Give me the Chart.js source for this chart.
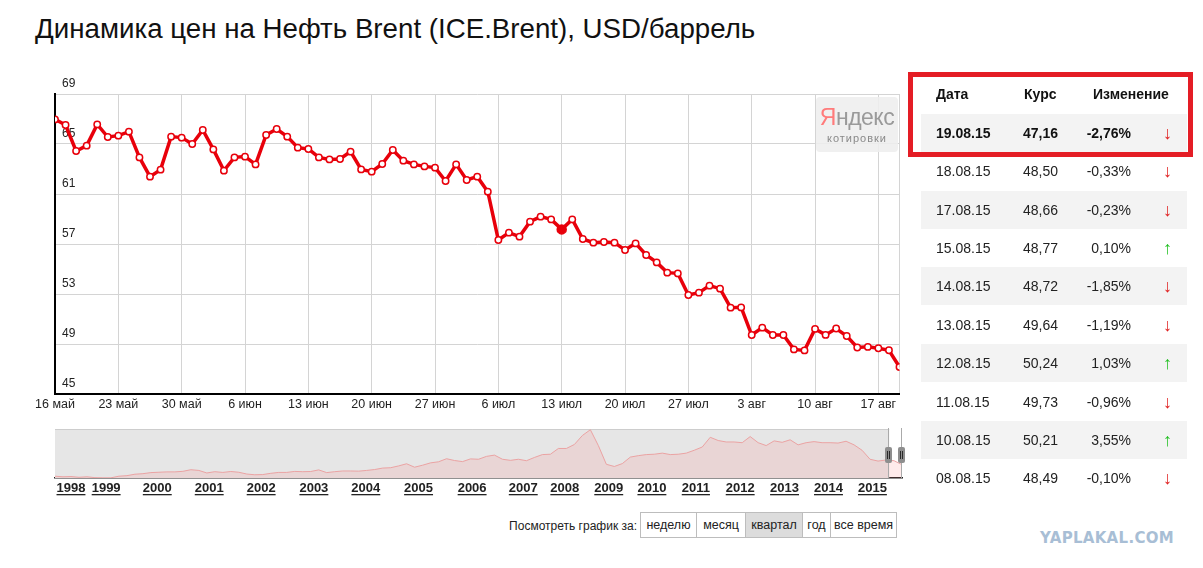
<!DOCTYPE html>
<html lang="ru">
<head>
<meta charset="utf-8">
<title>Нефть Brent</title>
<script src="https://cdn.jsdelivr.net/npm/chart.js@4.4.1/dist/chart.umd.min.js"></script>
<style>
  body { margin: 0; background: #fff; font-family: "Liberation Sans", Arial, sans-serif; color: #222; }
  #page { position: relative; width: 1203px; height: 568px; overflow: hidden; }
  h1 { position: absolute; left: 35px; top: 15px; margin: 0; font-weight: normal; font-size: 27.7px; line-height: 28px; color: #111; white-space: nowrap; }
  #main { position: absolute; left: 0; top: 60px; }
  #nav { position: absolute; left: 0; top: 420px; }
  .ya { position: absolute; left: 816px; top: 97px; width: 82px; height: 55px; background: rgba(238,238,238,0.88); border-radius: 4px; text-align: center; }
  .ya .logo { font-family: "Liberation Sans Narrow", "Arial Narrow", sans-serif; font-size: 23px; line-height: 24px; color: #9a9a9a; margin-top: 8px; letter-spacing: -0.5px; }
  .ya .logo span { color: #ff7b7b; }
  .ya .sub { font-size: 11px; color: #8a8a8a; letter-spacing: 1px; margin-top: 3px; }
  .row-bg { position: absolute; left: 921px; width: 266px; height: 38px; background: #f3f3f3; }
  .frame { position: absolute; left: 908px; top: 72px; width: 285px; height: 85px; border: 5px solid #e41d25; box-sizing: border-box; }
  .c { position: absolute; height: 20px; line-height: 20px; font-size: 14px; white-space: nowrap; }
  .b { font-weight: bold; color: #111; }
  .arrow { font-size: 18px; }
  .down { color: #e02020; }
  .up { color: #1fbf1f; }
  .period { position: absolute; left: 440px; top: 514px; width: 197px; text-align: right; font-size: 12px; line-height: 24px; color: #222; }
  .btns { position: absolute; left: 640px; top: 512px; height: 26px; display: flex; border: 1px solid #bdbdbd; box-sizing: border-box; }
  .btns span { display: block; height: 24px; line-height: 24px; font-size: 12.5px; text-align: center; border-left: 1px solid #bdbdbd; box-sizing: border-box; color: #222; }
  .btns span:first-child { border-left: none; }
  .btns span.on { background: #dcdcdc; }
  .wm { position: absolute; left: 1040px; top: 529px; font-family: "DejaVu Sans", sans-serif; font-weight: bold; font-size: 15px; color: #a8bed5; letter-spacing: 0.3px; }
</style>
</head>
<body>
<div id="page">
  <h1>Динамика цен на Нефть Brent (ICE.Brent), USD/баррель</h1>
  <canvas id="main" width="905" height="360"></canvas>
  <div class="ya"><div class="logo"><span>Я</span>ндекс</div><div class="sub">котировки</div></div>
  <canvas id="nav" width="910" height="80"></canvas>
  <div id="rates"></div>
  <div class="period">Посмотреть график за:</div>
  <div class="btns" id="btns"></div>
  <div class="wm">YAPLAKAL.COM</div>
</div>
<script>
// main chart: daily close, one point per trading day from 16 May to 19 Aug
const prices = [
  66.97, 66.52, 64.44, 64.87, 66.57, 65.56, 65.67, 65.99, 63.93, 62.39,
  62.95, 65.59, 65.51, 65.00, 66.12, 64.57, 62.87, 63.93, 63.99, 63.37,
  65.72, 66.20, 65.59, 64.71, 64.60, 63.93, 63.77, 63.80, 64.39, 62.97,
  62.79, 63.40, 64.52, 63.67, 63.37, 63.21, 63.11, 62.04, 63.37, 62.12,
  62.39, 61.19, 57.32, 57.91, 57.59, 58.79, 59.19, 58.97, 58.17, 58.97,
  57.40, 57.11, 57.16, 57.11, 56.52, 57.05, 56.12, 55.53, 54.71, 54.65,
  52.92, 53.11, 53.67, 53.43, 51.91, 51.93, 49.72, 50.31, 49.72, 49.72,
  48.57, 48.49, 50.21, 49.73, 50.24, 49.64, 48.72, 48.77, 48.66, 48.50,
  47.16
];
const weekLabels = ['16 май', '23 май', '30 май', '6 июн', '13 июн', '20 июн', '27 июн',
  '6 июл', '13 июл', '20 июл', '27 июл', '3 авг', '10 авг', '17 авг'];
const markedIndex = 48; // hovered point (13 июл)

// overview strip, 1998 - 2015
const navPrices = [
  15, 13.3, 14, 12, 13.3, 11, 10.5, 10.5, 15, 16.5,
  20.5, 22, 25, 26, 27, 27, 28.5, 33, 31, 24,
  27.5, 25.5, 28, 26, 21, 19, 19.5, 23, 25.5, 25.5,
  28.3, 27.5, 28, 32.5, 25, 27.5, 29.5, 29.5, 29, 31,
  33.5, 37.5, 38.5, 43.5, 49.5, 40, 45.5, 52, 55, 63.5,
  58.5, 55.5, 63, 62, 70, 73.5, 62, 59, 62, 58,
  67, 75, 76, 92, 92, 103, 128, 144, 100, 48,
  42, 50, 68, 72, 75, 76, 79, 75, 76, 79,
  87, 96, 123, 114, 110, 110, 108, 125, 108, 100,
  113, 109, 116, 102, 108, 111, 108, 108, 107, 112,
  102, 87, 62, 57, 60, 58, 47
];
const navYears = ['1998', '1999', '2000', '2001', '2002', '2003', '2004', '2005', '2006',
  '2007', '2008', '2009', '2010', '2011', '2012', '2013', '2014', '2015'];
const navYearPos = [2.0, 6.4, 12.8, 19.3, 25.8, 32.4, 38.9, 45.5, 52.2,
  58.6, 63.8, 69.3, 74.7, 80.2, 85.75, 91.3, 96.8, 102.3];
const navSelStart = 104.4;

// rates table
const tableDates = ['19.08.15', '18.08.15', '17.08.15', '15.08.15', '14.08.15',
  '13.08.15', '12.08.15', '11.08.15', '10.08.15', '08.08.15'];
const tableRates = ['47,16', '48,50', '48,66', '48,77', '48,72', '49,64', '50,24', '49,73', '50,21', '48,49'];
const tableChanges = ['-2,76%', '-0,33%', '-0,23%', '0,10%', '-1,85%', '-1,19%', '1,03%', '-0,96%', '3,55%', '-0,10%'];

const periods = ['неделю', 'месяц', 'квартал', 'год', 'все время'];
const periodWidths = [55, 49, 57, 28, 66];
const activePeriod = 2;

Chart.defaults.font.family = '"Liberation Sans", Arial, sans-serif';
Chart.defaults.color = '#222';

const red = '#e8000b';

new Chart(document.getElementById('main'), {
    type: 'line',
    data: {
        datasets: [{
            data: prices.map((v, i) => ({x: i, y: v})),
            borderColor: red,
            borderWidth: 3.5,
            pointRadius: prices.map((v, i) => i === markedIndex ? 4.5 : 3.2),
            pointBackgroundColor: prices.map((v, i) => i === markedIndex ? red : '#fff'),
            pointBorderColor: red,
            pointBorderWidth: 1.5,
            tension: 0
        }]
    },
    options: {
        responsive: false,
        animation: false,
        layout: {padding: {left: 55, top: 34, right: 5, bottom: 0}},
        plugins: {legend: {display: false}, tooltip: {enabled: false}},
        scales: {
            x: {
                type: 'linear',
                min: 0,
                max: prices.length - 1,
                afterBuildTicks: s => {
                    s.ticks = weekLabels.map((l, k) => ({value: k * 6})).concat([{value: prices.length - 1}]);
                },
                afterFit: s => { s.height = 26; },
                ticks: {
                    autoSkip: false, maxRotation: 0, padding: 3,
                    font: {size: 12.5},
                    callback: v => weekLabels[v / 6] || ''
                },
                grid: {color: '#d4d4d4', drawTicks: false},
                border: {color: '#000', width: 2}
            },
            y: {
                min: 45,
                max: 69,
                afterFit: s => { s.width = 0; },
                ticks: {stepSize: 4, mirror: true, padding: 7, labelOffset: -10, font: {size: 12}},
                grid: {color: '#d4d4d4', drawTicks: false},
                border: {color: '#000', width: 2}
            }
        }
    }
});

// grey background left of the selected window, and its top line
const navBackground = {
    id: 'navBackground',
    beforeDatasetsDraw(chart) {
        const {ctx, chartArea: a, scales: {x}} = chart;
        const sx = x.getPixelForValue(navSelStart);
        ctx.save();
        ctx.fillStyle = '#e6e6e6';
        ctx.fillRect(a.left, a.top, sx - a.left, a.bottom - a.top);
        ctx.strokeStyle = '#cdcdcd';
        ctx.beginPath();
        ctx.moveTo(a.left, a.top + 0.5);
        ctx.lineTo(sx, a.top + 0.5);
        ctx.stroke();
        ctx.restore();
    }
};

// the two drag handles of the window
const navHandles = {
    id: 'navHandles',
    afterDraw(chart) {
        const {ctx, chartArea: a, scales: {x}} = chart;
        const mid = a.top + 26;
        [navSelStart, navPrices.length - 1].forEach(v => {
            const px = Math.round(x.getPixelForValue(v)) - 1;
            ctx.save();
            ctx.strokeStyle = '#aaa';
            ctx.lineWidth = 1;
            ctx.beginPath();
            ctx.moveTo(px + 0.5, a.top - 1);
            ctx.lineTo(px + 0.5, a.bottom);
            ctx.stroke();
            ctx.fillStyle = '#8e8e8e';
            ctx.beginPath();
            ctx.roundRect(px - 3, mid - 8, 7, 16, 2);
            ctx.fill();
            ctx.fillStyle = '#2a2a2a';
            ctx.fillRect(px - 1, mid - 4, 1, 8);
            ctx.fillRect(px + 1, mid - 4, 1, 8);
            ctx.restore();
        });
    }
};

// year labels look like links
const yearUnderline = {
    id: 'yearUnderline',
    afterDraw(chart) {
        const {ctx, scales: {x}} = chart;
        ctx.save();
        ctx.font = 'bold 13px "Liberation Sans", Arial, sans-serif';
        ctx.fillStyle = '#222';
        x.ticks.forEach((t, k) => {
            const px = x.getPixelForValue(t.value);
            const w = ctx.measureText(navYears[k]).width;
            ctx.fillRect(px - w / 2, x.top + 16, w, 1.3);
        });
        ctx.restore();
    }
};

new Chart(document.getElementById('nav'), {
    type: 'line',
    data: {
        datasets: [{
            data: navPrices.map((v, i) => ({x: i, y: v})),
            borderColor: '#eba3a3',
            borderWidth: 1,
            pointRadius: 0,
            fill: 'start',
            backgroundColor: 'rgba(255,110,110,0.14)',
            tension: 0
        }]
    },
    options: {
        responsive: false,
        animation: false,
        layout: {padding: {left: 55, top: 9, right: 8, bottom: 0}},
        plugins: {legend: {display: false}, tooltip: {enabled: false}},
        scales: {
            x: {
                type: 'linear',
                min: 0,
                max: navPrices.length - 1,
                afterBuildTicks: s => { s.ticks = navYearPos.map(v => ({value: v})); },
                afterFit: s => { s.height = 22; },
                ticks: {
                    autoSkip: false, maxRotation: 0, padding: 3,
                    font: {size: 13, weight: 'bold'},
                    callback: (v, k) => navYears[k]
                },
                grid: {display: false, drawTicks: false},
                border: {color: '#222', width: 1.5}
            },
            y: {display: false, min: 10, max: 146}
        }
    },
    plugins: [navBackground, navHandles, yearUnderline]
});

// table of last quotes
const rowY0 = 132.7, rowStep = 38.4;
let html = '';
tableDates.forEach((d, i) => {
    const cy = rowY0 + i * rowStep;
    if (i % 2 === 0) html += `<div class="row-bg" style="top:${(cy - 19).toFixed(1)}px"></div>`;
});
html += '<div class="frame"></div>';
const head = 94.3 - 10;
html += `<div class="c b" style="left:936px;top:${head}px">Дата</div>`;
html += `<div class="c b" style="left:1024px;top:${head}px">Курс</div>`;
html += `<div class="c b" style="left:1093px;top:${head}px">Изменение</div>`;
tableDates.forEach((d, i) => {
    const top = (rowY0 + i * rowStep - 10).toFixed(1);
    const cls = i === 0 ? 'c b' : 'c';
    const down = tableChanges[i].startsWith('-');
    html += `<div class="${cls}" style="left:936px;top:${top}px">${d}</div>`;
    html += `<div class="${cls}" style="left:1023px;top:${top}px">${tableRates[i]}</div>`;
    html += `<div class="${cls}" style="right:${1203 - 1131}px;top:${top}px">${tableChanges[i]}</div>`;
    html += `<div class="c arrow ${down ? 'down' : 'up'}" style="left:1163px;top:${top}px">${down ? '↓' : '↑'}</div>`;
});
document.getElementById('rates').innerHTML = html;

// period buttons
document.getElementById('btns').innerHTML = periods
    .map((p, i) => `<span class="${i === activePeriod ? 'on' : ''}" style="width:${periodWidths[i]}px">${p}</span>`)
    .join('');
</script>
</body>
</html>
